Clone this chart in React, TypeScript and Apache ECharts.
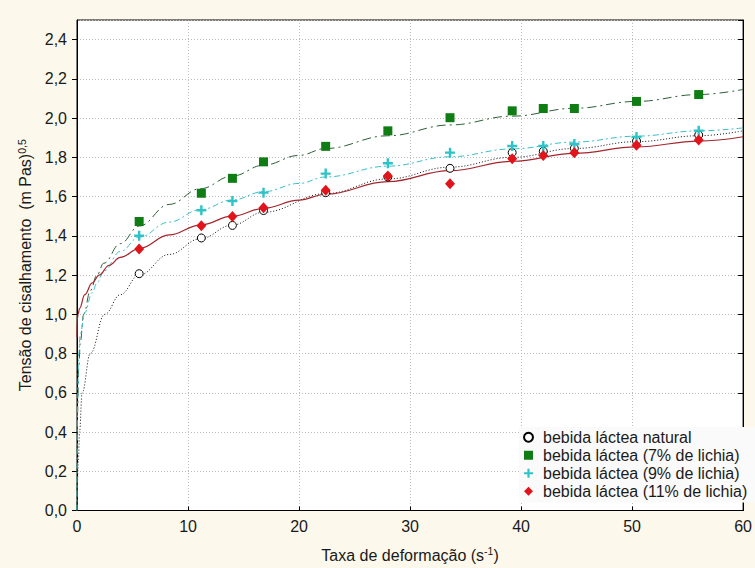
import React, { useEffect, useRef } from "react";
import * as echarts from "echarts";

// Shear rates of the measured points (s^-1)
const rates = [5.6, 11.2, 14.0, 16.8, 22.4, 28.0, 33.6, 39.2, 42.0, 44.8, 50.4, 56.0];

// Measured shear stress^0.5 values
const naturalPts = [1.207, 1.389, 1.453, 1.529, 1.62, 1.70, 1.744, 1.824, 1.831, 1.846, 1.883, 1.914];
const lichia7Pts = [1.473, 1.617, 1.693, 1.777, 1.856, 1.935, 2.002, 2.037, 2.049, 2.049, 2.085, 2.12];
const lichia9Pts = [1.4, 1.53, 1.577, 1.62, 1.717, 1.77, 1.824, 1.858, 1.858, 1.868, 1.904, 1.936];
const lichia11Pts = [1.333, 1.451, 1.498, 1.543, 1.632, 1.705, 1.665, 1.793, 1.81, 1.824, 1.861, 1.888];

// Fitted curves
const naturalFitX = [0, 0.12, 0.23, 0.46, 1.2, 2.5, 3.9, 5.6, 8.3, 11.1, 14, 16.8, 22.4, 28, 33.6, 39.2, 44.8, 50.4, 56, 60];
const naturalFitY = [0, 0.25, 0.4, 0.6, 0.8, 1.0, 1.1, 1.2, 1.305, 1.385, 1.455, 1.52, 1.615, 1.69, 1.75, 1.8, 1.845, 1.88, 1.91, 1.935];

const lichia7FitX = [0, 0.05, 0.15, 0.3, 0.6, 1.2, 1.8, 2.4, 3.9, 5.6, 8.3, 11.1, 14, 16.8, 20, 22.4, 28, 33.6, 39.2, 44.8, 50.4, 56, 60];
const lichia7FitY = [0, 0.5, 0.72, 0.86, 1.0, 1.12, 1.2, 1.26, 1.36, 1.45, 1.56, 1.64, 1.705, 1.76, 1.81, 1.845, 1.91, 1.965, 2.01, 2.05, 2.085, 2.12, 2.146];

const lichia9FitX = [0, 0.05, 0.15, 0.3, 0.7, 1.37, 1.8, 2.4, 3.9, 5.6, 8.3, 11.1, 14, 16.8, 20, 22.4, 28, 33.6, 39.2, 44.8, 50.4, 56, 60];
const lichia9FitY = [0, 0.55, 0.8, 0.9, 1.01, 1.11, 1.16, 1.22, 1.32, 1.393, 1.47, 1.533, 1.583, 1.625, 1.667, 1.7, 1.755, 1.803, 1.843, 1.878, 1.908, 1.935, 1.95];

const lichia11FitX = [0, 0.02, 0.1, 0.23, 0.7, 1.37, 2.0, 2.9, 3.9, 5.6, 8.3, 11.1, 14, 16.8, 20, 22.4, 28, 33.6, 39.2, 44.8, 50.4, 56, 60];
const lichia11FitY = [0.88, 0.97, 1.0, 1.03, 1.1, 1.16, 1.2, 1.25, 1.29, 1.335, 1.405, 1.455, 1.5, 1.54, 1.582, 1.612, 1.676, 1.732, 1.78, 1.82, 1.853, 1.883, 1.905];

const seriesNames = [
  "bebida láctea natural",
  "bebida láctea (7% de lichia)",
  "bebida láctea (9% de lichia)",
  "bebida láctea (11% de lichia)",
];

const FONT = 'Arial, "Liberation Sans", Helvetica, sans-serif';
const FS = 16;
const TXT = "#1a1a1a";
const pairs = (xs: number[], ys: number[]) => xs.map((x, i) => [x, ys[i]]);

export default function App() {
  const ref = useRef<HTMLDivElement>(null);
  useEffect(() => {
    if (!ref.current) return;
    const chart = echarts.init(ref.current, null, { renderer: "svg" });
    const fmt = (v: number) => v.toFixed(1).replace(".", ",");
    const lineBase = {
      type: "line" as const,
      showSymbol: false,
      symbol: "none",
      smooth: 0.4,
      smoothMonotone: "x" as const,
      silent: true,
      z: 2,
    };
    const plus = "path://M3.8,0H6.2V3.8H10V6.2H6.2V10H3.8V6.2H0V3.8H3.8Z";
    const rich = {
      a: { fontSize: FS, color: TXT, fontFamily: FONT, lineHeight: 19 },
      s: { fontSize: 10.5, color: TXT, fontFamily: FONT, verticalAlign: "top", lineHeight: 11 },
    };
    chart.setOption({
      animation: false,
      backgroundColor: "#fcf9ec",
      textStyle: { fontFamily: FONT },
      grid: {
        left: 77,
        right: 6,
        top: 20,
        bottom: 56,
        show: true,
        backgroundColor: "#ffffff",
        borderColor: "#000",
        borderWidth: 1,
      },
      legend: {
        orient: "vertical",
        left: 519,
        top: 427,
        padding: [2, 12, 3, 4],
        backgroundColor: "#fafafa",
        itemWidth: 9,
        itemHeight: 9,
        itemGap: 1.5,
        textStyle: { fontSize: FS, color: TXT, fontFamily: FONT, lineHeight: 16.5, padding: [0, 0, 0, 5] },
        data: seriesNames,
      },
      xAxis: [
        {
          type: "value",
          min: 0,
          max: 60,
          interval: 10,
          name: "{a|Taxa de deformação (s}{s|-1}{a|)}",
          nameLocation: "middle",
          nameGap: 35,
          nameTextStyle: { rich },
          axisLine: { lineStyle: { color: "#000", width: 1 } },
          axisTick: { inside: true, length: 4, lineStyle: { color: "#000" } },
          axisLabel: { fontSize: FS, color: TXT, margin: 8, fontFamily: FONT },
          splitLine: { show: true, lineStyle: { color: "#bdbdbd", type: [1, 2], width: 1 } },
        },
      ],
      yAxis: [
        {
          type: "value",
          min: 0,
          max: 2.5,
          interval: 0.2,
          name: "{a|Tensão de cisalhamento  (m Pas)}{s|0,5}",
          nameLocation: "middle",
          nameGap: 41,
          nameTextStyle: { rich },
          axisLine: { show: true, lineStyle: { color: "#000", width: 1 } },
          axisTick: { show: true, inside: false, length: 5, lineStyle: { color: "#000" } },
          axisLabel: { fontSize: FS, color: TXT, margin: 10, formatter: fmt, showMaxLabel: false, fontFamily: FONT },
          splitLine: { show: true, lineStyle: { color: "#bdbdbd", type: [1, 2], width: 1 } },
        },
        {
          type: "value",
          position: "right",
          min: 0,
          max: 2.5,
          interval: 0.2,
          axisLine: { show: true, lineStyle: { color: "#000", width: 1 } },
          axisTick: { show: true, inside: true, length: 5, lineStyle: { color: "#000" } },
          axisLabel: { show: false },
          splitLine: { show: false },
        },
      ],
      series: [
        {
          ...lineBase,
          name: "fit natural",
          data: pairs(naturalFitX, naturalFitY),
          lineStyle: { color: "#111", width: 1, type: [1, 2] },
        },
        {
          ...lineBase,
          name: "fit 7",
          data: pairs(lichia7FitX, lichia7FitY),
          lineStyle: { color: "#2c5f38", width: 1, type: [9, 4, 2, 4] },
        },
        {
          ...lineBase,
          name: "fit 9",
          data: pairs(lichia9FitX, lichia9FitY),
          lineStyle: { color: "#3bbfc6", width: 1, type: [6, 3, 2, 3] },
        },
        {
          ...lineBase,
          name: "fit 11",
          data: pairs(lichia11FitX, lichia11FitY),
          lineStyle: { color: "#a3262c", width: 1.2, type: "solid" },
        },
        {
          type: "scatter",
          name: seriesNames[0],
          symbol: "circle",
          symbolSize: 8,
          itemStyle: { color: "#ffffff", borderColor: "#000", borderWidth: 1, opacity: 1 },
          data: pairs(rates, naturalPts),
          z: 3,
        },
        {
          type: "scatter",
          name: seriesNames[1],
          symbol: "rect",
          symbolSize: 9,
          itemStyle: { color: "#0f7d14", opacity: 1 },
          data: pairs(rates, lichia7Pts),
          z: 3,
        },
        {
          type: "scatter",
          name: seriesNames[2],
          symbol: plus,
          symbolSize: 10,
          itemStyle: { color: "#2ec3c6", opacity: 1 },
          data: pairs(rates, lichia9Pts),
          z: 3,
        },
        {
          type: "scatter",
          name: seriesNames[3],
          symbol: "diamond",
          symbolSize: [10, 11],
          itemStyle: { color: "#e0141a", opacity: 1 },
          data: pairs(rates, lichia11Pts),
          z: 4,
        },
      ],
    });
    return () => chart.dispose();
  }, []);
  return (
    <div
      ref={ref}
      style={{ position: "fixed", left: 0, top: 0, width: 755, height: 568 }}
    />
  );
}
